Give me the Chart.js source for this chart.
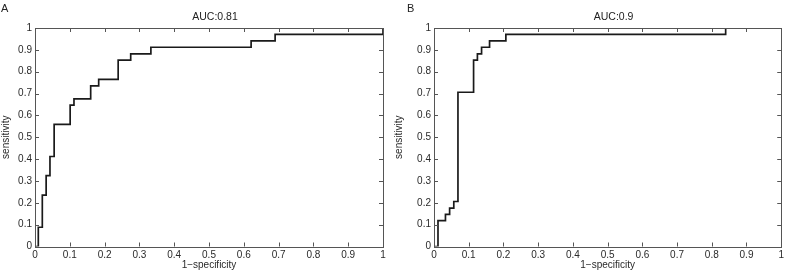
<!DOCTYPE html>
<html>
<head>
<meta charset="utf-8">
<script src="https://cdn.jsdelivr.net/npm/chart.js@4"></script>
<style>
  body { margin: 0; background: #fff; }
  #wrap { position: relative; width: 787px; height: 273px; }
  canvas { position: absolute; top: 0; }
</style>
</head>
<body>
<div id="wrap">
  <canvas id="chartA" width="393" height="273" style="left:0"></canvas>
  <canvas id="chartB" width="394" height="273" style="left:393px"></canvas>
</div>
<script>
// ROC points (1-specificity, sensitivity)
const fprA = [0, 0.0095, 0.021, 0.032, 0.043, 0.055, 0.101, 0.112, 0.160, 0.183, 0.239, 0.275, 0.333, 0.621, 0.690, 1];
const tprA = [0, 0.088, 0.235, 0.324, 0.412, 0.559, 0.647, 0.676, 0.735, 0.765, 0.853, 0.882, 0.912, 0.941, 0.971, 1];

const fprB = [0, 0.0115, 0.033, 0.045, 0.057, 0.069, 0.114, 0.125, 0.137, 0.160, 0.207, 0.840, 1];
const tprB = [0, 0.118, 0.147, 0.176, 0.206, 0.706, 0.853, 0.882, 0.912, 0.941, 0.971, 1, 1];

const tickValues = [0, 0.1, 0.2, 0.3, 0.4, 0.5, 0.6, 0.7, 0.8, 0.9, 1];
const tickLabels = ["0", "0.1", "0.2", "0.3", "0.4", "0.5", "0.6", "0.7", "0.8", "0.9", "1"];

const FONT = "'Liberation Sans', Arial, Helvetica, sans-serif";
Chart.defaults.font.family = FONT;
Chart.defaults.color = "#2a2a2a";

// box, inward ticks on all four sides, title and panel letter
const framePlugin = {
    id: "frame",
    afterDraw(chart, args, opts) {
        const ctx = chart.ctx;
        const a = chart.chartArea;
        const xs = chart.scales.x, ys = chart.scales.y;
        ctx.save();
        ctx.strokeStyle = "#555";
        ctx.lineWidth = 1;
        ctx.strokeRect(Math.round(a.left) + 0.5, Math.round(a.top) + 0.5,
            Math.round(a.right - a.left), Math.round(a.bottom - a.top));
        ctx.beginPath();
        tickValues.forEach(v => {
            const px = Math.round(xs.getPixelForValue(v)) + 0.5;
            ctx.moveTo(px, a.bottom); ctx.lineTo(px, a.bottom - 4);
            ctx.moveTo(px, a.top); ctx.lineTo(px, a.top + 4);
            const py = Math.round(ys.getPixelForValue(v)) + 0.5;
            ctx.moveTo(a.left, py); ctx.lineTo(a.left + 4, py);
            ctx.moveTo(a.right, py); ctx.lineTo(a.right - 4, py);
        });
        ctx.stroke();

        ctx.fillStyle = "#222";
        ctx.font = "10.5px " + FONT;
        ctx.textAlign = "center";
        ctx.textBaseline = "middle";
        ctx.fillText(opts.title, (a.left + a.right) / 2 + 6, 17.5);

        ctx.font = "11px " + FONT;
        ctx.textAlign = "left";
        ctx.textBaseline = "alphabetic";
        ctx.fillText(opts.letter, opts.letterX, 11.5);
        ctx.restore();
    }
};

function rocChart(id, fpr, tpr, title, letter, letterX, yWidth, padRight) {
    return new Chart(document.getElementById(id).getContext("2d"), {
        type: "line",
        data: {
            datasets: [{
                data: fpr.map((x, i) => ({ x: x, y: tpr[i] })),
                borderColor: "#1a1a1a",
                borderWidth: 1.7,
                pointRadius: 0,
                stepped: "before",
                fill: false
            }]
        },
        options: {
            responsive: false,
            animation: false,
            layout: { padding: { left: 0, right: padRight, top: 28, bottom: 0 } },
            plugins: {
                legend: { display: false },
                tooltip: { enabled: false },
                frame: { title: title, letter: letter, letterX: letterX }
            },
            scales: {
                x: {
                    type: "linear",
                    min: 0, max: 1,
                    grid: { display: false, drawTicks: false },
                    border: { display: false },
                    afterBuildTicks: s => { s.ticks = tickValues.map(v => ({ value: v })); },
                    afterFit: s => { s.height = 26.5; },
                    ticks: {
                        padding: 3,
                        maxRotation: 0,
                        autoSkip: false,
                        font: { size: 10 },
                        callback: (v, i) => tickLabels[i]
                    },
                    title: {
                        display: true,
                        text: "1\u2212specificity",
                        font: { size: 10 },
                        padding: { top: 0, bottom: 2 }
                    }
                },
                y: {
                    type: "linear",
                    min: 0, max: 1,
                    grid: { display: false, drawTicks: false },
                    border: { display: false },
                    afterBuildTicks: s => { s.ticks = tickValues.map(v => ({ value: v })); },
                    afterFit: s => { s.width = yWidth; },
                    ticks: {
                        padding: 3,
                        autoSkip: false,
                        font: { size: 10 },
                        callback: (v, i) => tickLabels[i]
                    },
                    title: {
                        display: true,
                        text: "sensitivity",
                        font: { size: 10 },
                        padding: { top: 0, bottom: 4 }
                    }
                }
            }
        },
        plugins: [framePlugin]
    });
}

rocChart("chartA", fprA, tprA, "AUC:0.81", "A", 1, 35, 10);
rocChart("chartB", fprB, tprB, "AUC:0.9", "B", 14, 41, 4);
</script>
</body>
</html>
